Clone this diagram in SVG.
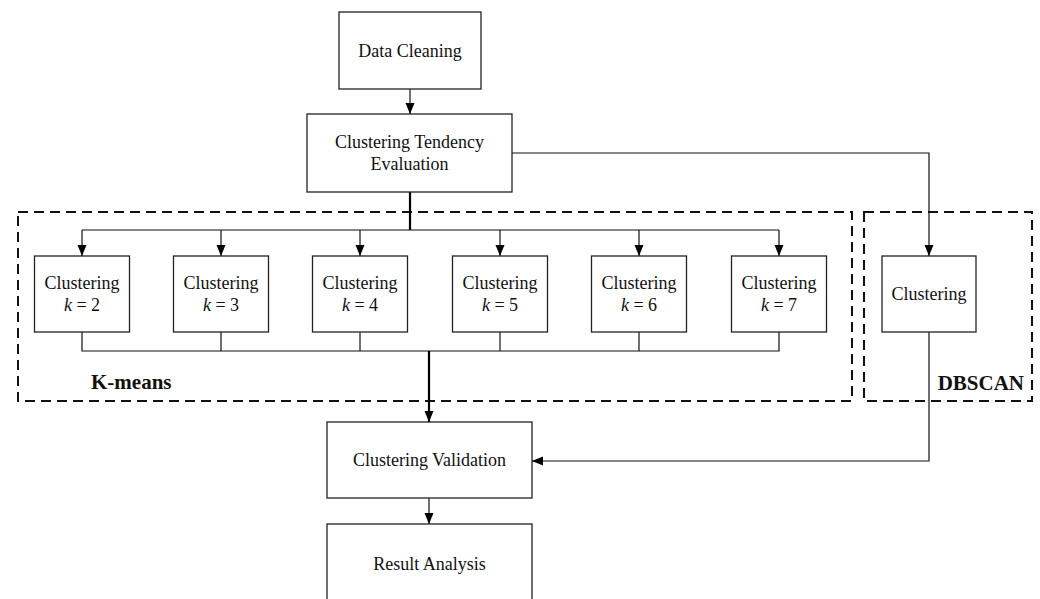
<svg xmlns="http://www.w3.org/2000/svg" width="1040" height="599" viewBox="0 0 1040 599">
<style>
.box{fill:#fff;stroke:#222;stroke-width:1.3}
.t{font-family:"Liberation Serif","Times New Roman",serif;font-size:18px;fill:#111;text-anchor:middle}
.lbl{font-family:"Liberation Serif","Times New Roman",serif;font-size:21px;font-weight:bold;fill:#111}
.c{fill:none;stroke:#111;stroke-width:1.2}
.thick{fill:none;stroke:#000;stroke-width:2.2}
.dash{fill:none;stroke:#111;stroke-width:2;stroke-dasharray:10,6}
</style>
<defs>
<marker id="ah" markerUnits="userSpaceOnUse" markerWidth="11" markerHeight="11" viewBox="0 0 11 11" refX="11" refY="5.5" orient="auto">
<path d="M0,1 L11,5.5 L0,10 Z" fill="#000"/>
</marker>
</defs>
<g id="groups">
<rect id="kmeans-group" class="dash" x="18" y="212" width="834" height="189"/>
<rect id="dbscan-group" class="dash" x="864" y="212" width="168" height="189"/>
<text class="lbl" x="91" y="389">K-means</text>
<text class="lbl" x="1024" y="390" text-anchor="end">DBSCAN</text>
</g>
<g id="connectors">
<line class="c" x1="410" y1="89" x2="410" y2="114" marker-end="url(#ah)"/>
<polyline class="c" points="512,153 929,153 929,256" marker-end="url(#ah)"/>
<line class="thick" x1="410" y1="192" x2="410" y2="230"/>
<line class="c" x1="82" y1="230" x2="779" y2="230"/>
<line class="c" x1="82" y1="230" x2="82" y2="256" marker-end="url(#ah)"/>
<line class="c" x1="221" y1="230" x2="221" y2="256" marker-end="url(#ah)"/>
<line class="c" x1="360" y1="230" x2="360" y2="256" marker-end="url(#ah)"/>
<line class="c" x1="500" y1="230" x2="500" y2="256" marker-end="url(#ah)"/>
<line class="c" x1="639" y1="230" x2="639" y2="256" marker-end="url(#ah)"/>
<line class="c" x1="779" y1="230" x2="779" y2="256" marker-end="url(#ah)"/>
<polyline class="c" points="82,332 82,351 779,351 779,332"/>
<line class="c" x1="221" y1="332" x2="221" y2="351"/>
<line class="c" x1="360" y1="332" x2="360" y2="351"/>
<line class="c" x1="500" y1="332" x2="500" y2="351"/>
<line class="c" x1="639" y1="332" x2="639" y2="351"/>
<line class="thick" x1="429" y1="351" x2="429" y2="422" marker-end="url(#ah)"/>
<polyline class="c" points="929,332 929,461 532,461" marker-end="url(#ah)"/>
<line class="c" x1="429" y1="498" x2="429" y2="524" marker-end="url(#ah)"/>
</g>
<g id="data-cleaning">
<rect class="box" x="339" y="12" width="142" height="77"/>
<text class="t" x="410" y="57">Data Cleaning</text>
</g>
<g id="tendency">
<rect class="box" x="307" y="114" width="205" height="78"/>
<text class="t" x="409.5" y="148">Clustering Tendency</text>
<text class="t" x="409.5" y="170">Evaluation</text>
</g>
<g id="k2">
<rect class="box" x="34.5" y="256" width="95" height="76"/>
<text class="t" x="82" y="289">Clustering</text>
<text class="t" x="82" y="311"><tspan font-style="italic">k</tspan> = 2</text>
</g>
<g id="k3">
<rect class="box" x="173.5" y="256" width="95" height="76"/>
<text class="t" x="221" y="289">Clustering</text>
<text class="t" x="221" y="311"><tspan font-style="italic">k</tspan> = 3</text>
</g>
<g id="k4">
<rect class="box" x="312.5" y="256" width="95" height="76"/>
<text class="t" x="360" y="289">Clustering</text>
<text class="t" x="360" y="311"><tspan font-style="italic">k</tspan> = 4</text>
</g>
<g id="k5">
<rect class="box" x="452.5" y="256" width="95" height="76"/>
<text class="t" x="500" y="289">Clustering</text>
<text class="t" x="500" y="311"><tspan font-style="italic">k</tspan> = 5</text>
</g>
<g id="k6">
<rect class="box" x="591.5" y="256" width="95" height="76"/>
<text class="t" x="639" y="289">Clustering</text>
<text class="t" x="639" y="311"><tspan font-style="italic">k</tspan> = 6</text>
</g>
<g id="k7">
<rect class="box" x="731.5" y="256" width="95" height="76"/>
<text class="t" x="779" y="289">Clustering</text>
<text class="t" x="779" y="311"><tspan font-style="italic">k</tspan> = 7</text>
</g>
<g id="dbscan-clustering">
<rect class="box" x="882" y="256" width="94" height="76"/>
<text class="t" x="929" y="300">Clustering</text>
</g>
<g id="validation">
<rect class="box" x="327" y="422" width="205" height="76"/>
<text class="t" x="429.5" y="466">Clustering Validation</text>
</g>
<g id="result">
<rect class="box" x="327" y="524" width="205" height="80"/>
<text class="t" x="429.5" y="570">Result Analysis</text>
</g>
</svg>
